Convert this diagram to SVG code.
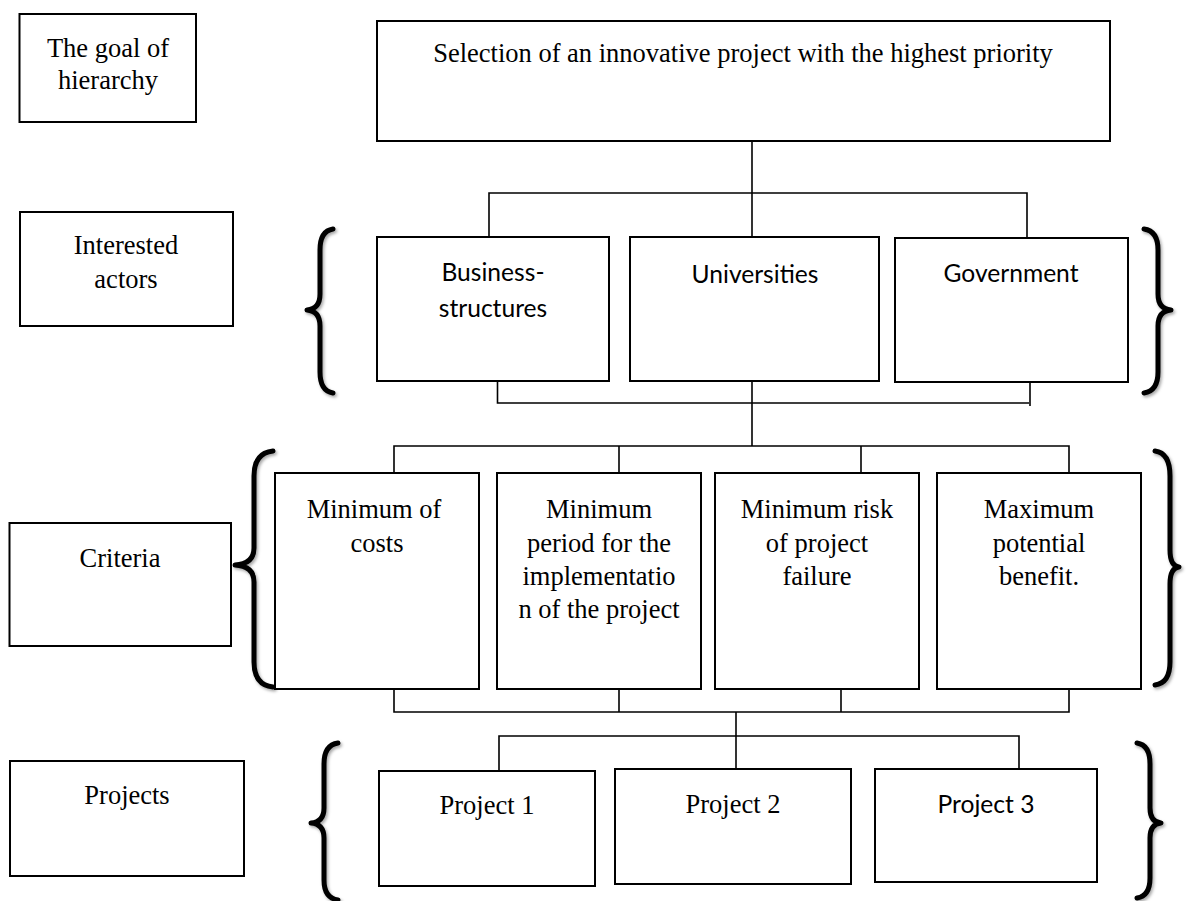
<svg xmlns="http://www.w3.org/2000/svg" width="1187" height="901" viewBox="0 0 1187 901">
<defs>
<style>
.box{fill:#fff;stroke:#000;stroke-width:2}
.ln{fill:none;stroke:#000;stroke-width:1.6}
.br{fill:none;stroke:#000;stroke-width:5;stroke-linecap:round;stroke-linejoin:round}
.s{font-family:"Liberation Serif","Times New Roman",serif;font-size:26.5px;fill:#000;text-anchor:middle}
.a{font-family:Lato,"Liberation Sans",sans-serif;font-size:24.6px;fill:#000;text-anchor:middle}
</style>
<filter id="sh" x="-50%" y="-10%" width="200%" height="120%"><feDropShadow dx="1.5" dy="2" stdDeviation="1.5" flood-color="#000" flood-opacity="0.35"/></filter>
</defs>
<g id="connectors">
<line class="ln" x1="752" y1="141" x2="752" y2="238"/>
<polyline class="ln" points="489,238 489,193 1027,193 1027,238"/>
<polyline class="ln" points="497.5,381 497.5,403 1029,403"/>
<line class="ln" x1="1030" y1="382" x2="1030" y2="406"/>
<line class="ln" x1="752" y1="381" x2="752" y2="446"/>
<polyline class="ln" points="394,473 394,446 1069,446 1069,473"/>
<line class="ln" x1="619" y1="446" x2="619" y2="473"/>
<line class="ln" x1="861" y1="446" x2="861" y2="473"/>
<polyline class="ln" points="394,689 394,712 1069,712 1069,689"/>
<line class="ln" x1="619" y1="689" x2="619" y2="712"/>
<line class="ln" x1="841" y1="689" x2="841" y2="712"/>
<line class="ln" x1="736" y1="712" x2="736" y2="769"/>
<polyline class="ln" points="499,771 499,736 1019,736 1019,769"/>
<line class="ln" x1="541" y1="574" x2="541" y2="597"/>
</g>
<g id="braces" filter="url(#sh)">
<path class="br" d="M333,229 Q320,231 320,250 L320,294 Q320,309 307,310 Q320,311 320,326 L320,372 Q320,391 333,393"/>
<path class="br" d="M1144,229 Q1158,231 1158,250 L1158,294 Q1158,309 1171,310 Q1158,311 1158,326 L1158,372 Q1158,391 1144,393"/>
<path class="br" d="M273,451 Q254,453 254,476 L254,548 Q254,564 235,565 Q254,566 254,582 L254,662 Q254,685 273,687"/>
<path class="br" d="M1155,451 Q1170,453 1170,476 L1170,550 Q1170,566 1179,567 Q1170,568 1170,584 L1170,662 Q1170,683 1155,685"/>
<path class="br" d="M338,743 Q324,745 324,764 L324,808 Q324,822 311,823 Q324,824 324,838 L324,880 Q324,898 338,900"/>
<path class="br" d="M1137,743 Q1150,745 1150,764 L1150,808 Q1150,822 1161,823 Q1150,824 1150,838 L1150,878 Q1150,896 1137,898"/>
</g>
<g id="goal-label"><rect class="box" x="19.5" y="14" width="176.5" height="108"/><text class="s"><tspan x="108" y="57">The goal of</tspan><tspan x="108" y="89">hierarchy</tspan></text></g>
<g id="goal"><rect class="box" x="377" y="21" width="733" height="120"/><text class="s" x="743" y="62">Selection of an innovative project with the highest priority</text></g>
<g id="actors-label"><rect class="box" x="20" y="212" width="213" height="114"/><text class="s"><tspan x="126" y="254">Interested</tspan><tspan x="126" y="288">actors</tspan></text></g>
<g id="business"><rect class="box" x="377" y="237" width="232" height="144"/><text class="a"><tspan x="493" y="281">Business-</tspan><tspan x="493" y="317">structures</tspan></text></g>
<g id="universities"><rect class="box" x="630" y="237" width="249" height="144"/><text class="a" x="755" y="283">Universities</text></g>
<g id="government"><rect class="box" x="895" y="238" width="233" height="144"/><text class="a" x="1011" y="282">Government</text></g>
<g id="criteria-label"><rect class="box" x="9.5" y="523" width="221.5" height="123"/><text class="s" x="120" y="567">Criteria</text></g>
<g id="crit-costs"><rect class="box" x="275" y="473" width="204" height="216"/><text class="s"><tspan x="374" y="518">Minimum of</tspan><tspan x="377" y="552">costs</tspan></text></g>
<g id="crit-period"><rect class="box" x="497" y="473" width="204" height="216"/><text class="s"><tspan x="599" y="518">Minimum</tspan><tspan x="599" y="552">period for the</tspan><tspan x="599" y="585">implementatio</tspan><tspan x="599" y="618">n of the project</tspan></text></g>
<g id="crit-risk"><rect class="box" x="715" y="473" width="204" height="216"/><text class="s"><tspan x="817" y="518">Minimum risk</tspan><tspan x="817" y="552">of project</tspan><tspan x="817" y="585">failure</tspan></text></g>
<g id="crit-benefit"><rect class="box" x="937" y="473" width="204" height="216"/><text class="s"><tspan x="1039" y="518">Maximum</tspan><tspan x="1039" y="552">potential</tspan><tspan x="1039" y="585">benefit.</tspan></text></g>
<g id="projects-label"><rect class="box" x="10" y="761" width="234" height="115"/><text class="s" x="127" y="804">Projects</text></g>
<g id="project1"><rect class="box" x="379" y="771" width="216" height="115"/><text class="s" x="487" y="814">Project 1</text></g>
<g id="project2"><rect class="box" x="615" y="769" width="236" height="115"/><text class="s" x="733" y="813">Project 2</text></g>
<g id="project3"><rect class="box" x="875" y="769" width="222" height="113"/><text class="a" x="986" y="813">Project 3</text></g>
</svg>
